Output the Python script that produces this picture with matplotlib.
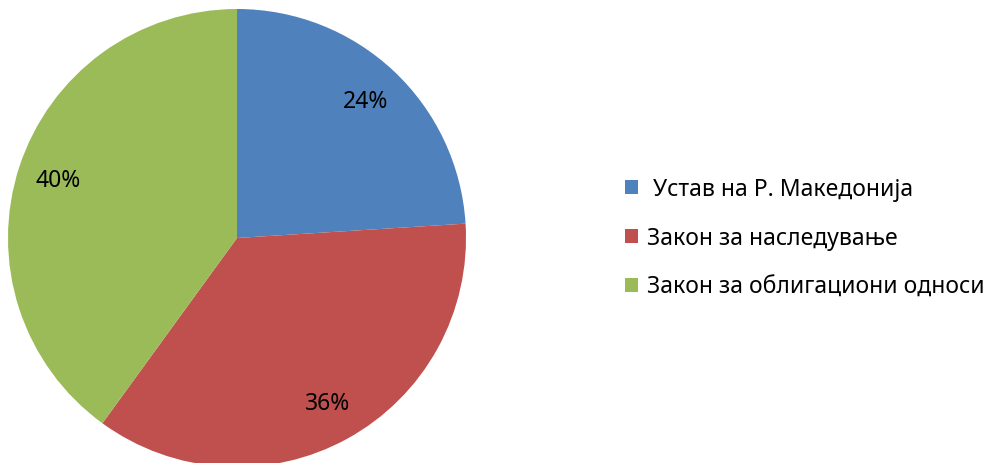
import matplotlib
matplotlib.use("Agg")
import matplotlib.pyplot as plt

labels = [" Устав на Р. Македонија", "Закон за наследување", "Закон за облигациони односи"]
shares = [24, 36, 40]
colors = ["#4F81BD", "#C0504D", "#9BBB59"]

plt.rcParams["font.family"] = ["Noto Sans", "DejaVu Sans"]

fig = plt.figure(figsize=(9.94, 4.64), dpi=100)
ax = fig.add_axes([0, 0, 1, 1])

wedges, texts, autotexts = ax.pie(
    shares,
    colors=colors,
    startangle=90,
    counterclock=False,
    center=(237, 225),
    radius=229,
    autopct="%d%%",
    pctdistance=0.82,
    wedgeprops={"linewidth": 0},
    textprops={"fontsize": 16.5, "color": "black"},
)

ax.set_xlim(0, 994)
ax.set_ylim(0, 464)
ax.set_aspect("equal")
ax.axis("off")

ax.legend(
    wedges, labels,
    loc="center left",
    bbox_to_anchor=(625 / 994, 1 - 239 / 464),
    frameon=False,
    fontsize=16.5,
    handlelength=0.55,
    handleheight=0.55,
    handletextpad=0.4,
    labelspacing=1.1,
    borderaxespad=0,
    borderpad=0,
)

fig.savefig("out.png", dpi=100)
